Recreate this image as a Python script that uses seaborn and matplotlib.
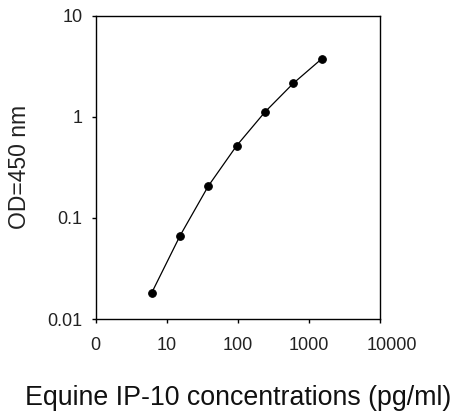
import matplotlib
matplotlib.use("Agg")
import matplotlib.pyplot as plt
import matplotlib.transforms as mtransforms
import seaborn as sns
import pandas as pd
from matplotlib.ticker import FixedLocator, FixedFormatter, NullLocator

conc = [6.14, 15.36, 38.4, 96, 240, 600, 1500]
od = [0.0182, 0.0667, 0.207, 0.518, 1.115, 2.14, 3.73]
x_ticks = [1, 10, 100, 1000, 10000]
x_tick_labels = ["0", "10", "100", "1000", "10000"]
y_ticks = [0.01, 0.1, 1, 10]
y_tick_labels = ["0.01", "0.1", "1", "10"]

sns.set_style("ticks")
plt.rcParams['font.family'] = ['Liberation Sans', 'DejaVu Sans']

df = pd.DataFrame({"conc": conc, "od": od})

fig = plt.figure(figsize=(4.58, 4.12), dpi=100)
ax = fig.add_axes([0.209, 0.2257, 0.621, 0.7363])
sns.lineplot(data=df, x="conc", y="od", ax=ax, color="black", linewidth=0.9,
             marker="o", markersize=5.5, markeredgecolor="black")
ax.set_xscale("log")
ax.set_yscale("log")
ax.set_xlim(1, 10000)
ax.set_ylim(0.01, 10)
ax.xaxis.set_major_locator(FixedLocator(x_ticks))
ax.xaxis.set_major_formatter(FixedFormatter(x_tick_labels))
ax.xaxis.set_minor_locator(NullLocator())
ax.yaxis.set_major_locator(FixedLocator(y_ticks))
ax.yaxis.set_major_formatter(FixedFormatter(y_tick_labels))
ax.yaxis.set_minor_locator(NullLocator())
for s in ax.spines.values():
    s.set_color("black")
    s.set_linewidth(1.0)
ax.tick_params(axis="both", direction="out", length=3, width=1, color="black",
               labelsize=13, labelcolor="#222222")
ax.tick_params(axis="x", pad=10)
ax.tick_params(axis="y", pad=6.5)
ax.set_xlabel("Equine IP-10 concentrations (pg/ml)", fontsize=19.3, labelpad=22, color="#111111")
ax.set_ylabel("OD=450 nm", fontsize=16.5, labelpad=12, color="#222222")

fig.canvas.draw()
last = ax.get_xticklabels()[-1]
last.set_transform(last.get_transform() + mtransforms.ScaledTranslation(12 / 100, 0, fig.dpi_scale_trans))

fig.savefig("out.png", dpi=100)
